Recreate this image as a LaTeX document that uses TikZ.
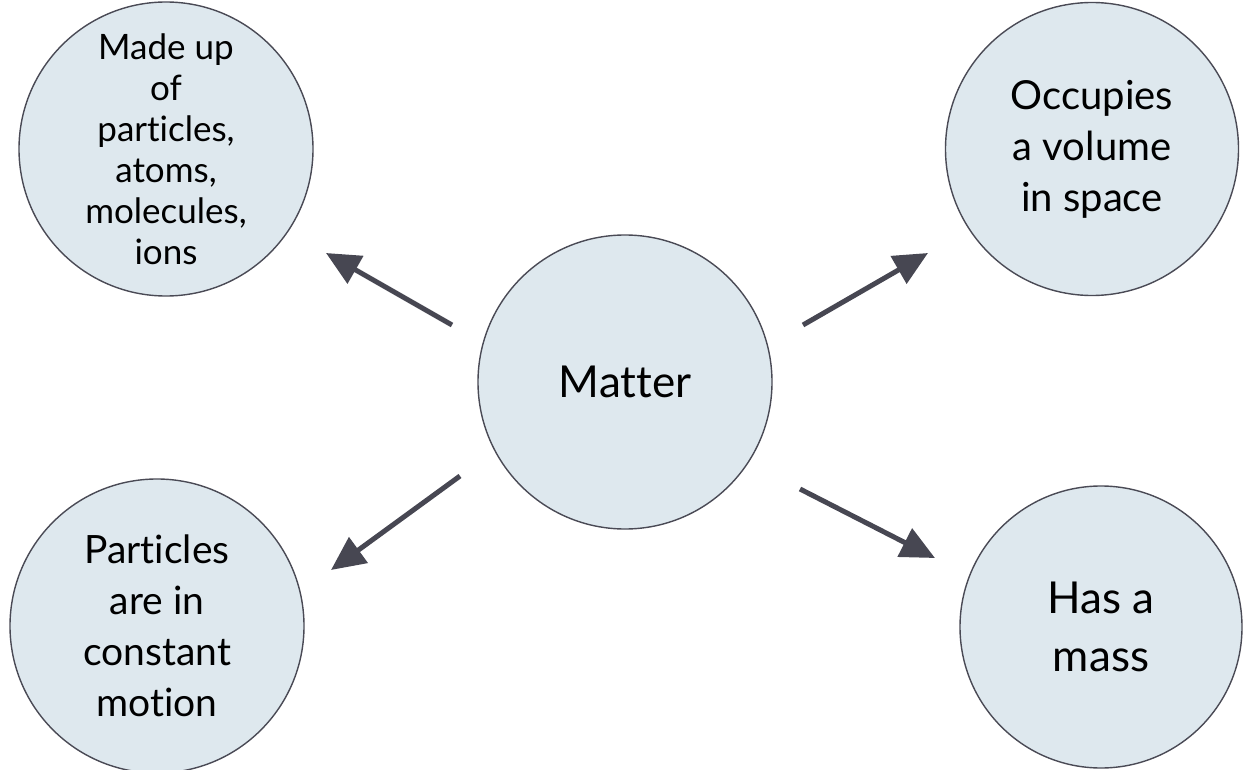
\documentclass[tikz,border=0pt]{standalone}
\usepackage{fontspec}
\setmainfont{Lato}[Ligatures={NoCommon}]
\usetikzlibrary{arrows.meta}
\definecolor{circfill}{HTML}{DEE8EE}
\definecolor{circline}{HTML}{4A4A55}
\definecolor{arrowcol}{HTML}{474752}
\tikzset{
  bubble/.style={circle, draw=circline, fill=circfill, line width=1.4pt, inner sep=0pt, align=center, text=black},
  link/.style={draw=arrowcol, line width=5pt, -{Triangle[length=34pt,width=31pt]}}
}
\begin{document}
\begin{tikzpicture}[x=1pt,y=-1pt]
\useasboundingbox (0,0) rectangle (1243,770);
\node[bubble, minimum size=294pt, font=\fontsize{44}{52}\selectfont] (m) at (625,382) {Matter};
\node[bubble, minimum size=294pt, font=\fontsize{35}{41}\selectfont] (tl) at (166,149) {Made up\\of\\particles,\\atoms,\\molecules,\\ions};
\node[bubble, minimum size=293pt, font=\fontsize{40}{51}\selectfont] (tr) at (1092,149) {Occupies\\a volume\\in space};
\node[bubble, minimum size=294pt, font=\fontsize{39}{51}\selectfont] (bl) at (157,626) {Particles\\are in\\constant\\motion};
\node[bubble, minimum size=282pt, font=\fontsize{44}{58}\selectfont] (br) at (1101,627) {Has a\\mass};
\coordinate (tlS) at (452,325); \coordinate (tlE) at (326,253);
\coordinate (trS) at (803,325); \coordinate (trE) at (928,253);
\coordinate (blS) at (460,476); \coordinate (blE) at (331,570);
\coordinate (brS) at (800,489); \coordinate (brE) at (935,558);
\draw[link] (tlS) -- (tlE);
\draw[link] (trS) -- (trE);
\draw[link] (blS) -- (blE);
\draw[link] (brS) -- (brE);
\end{tikzpicture}
\end{document}
